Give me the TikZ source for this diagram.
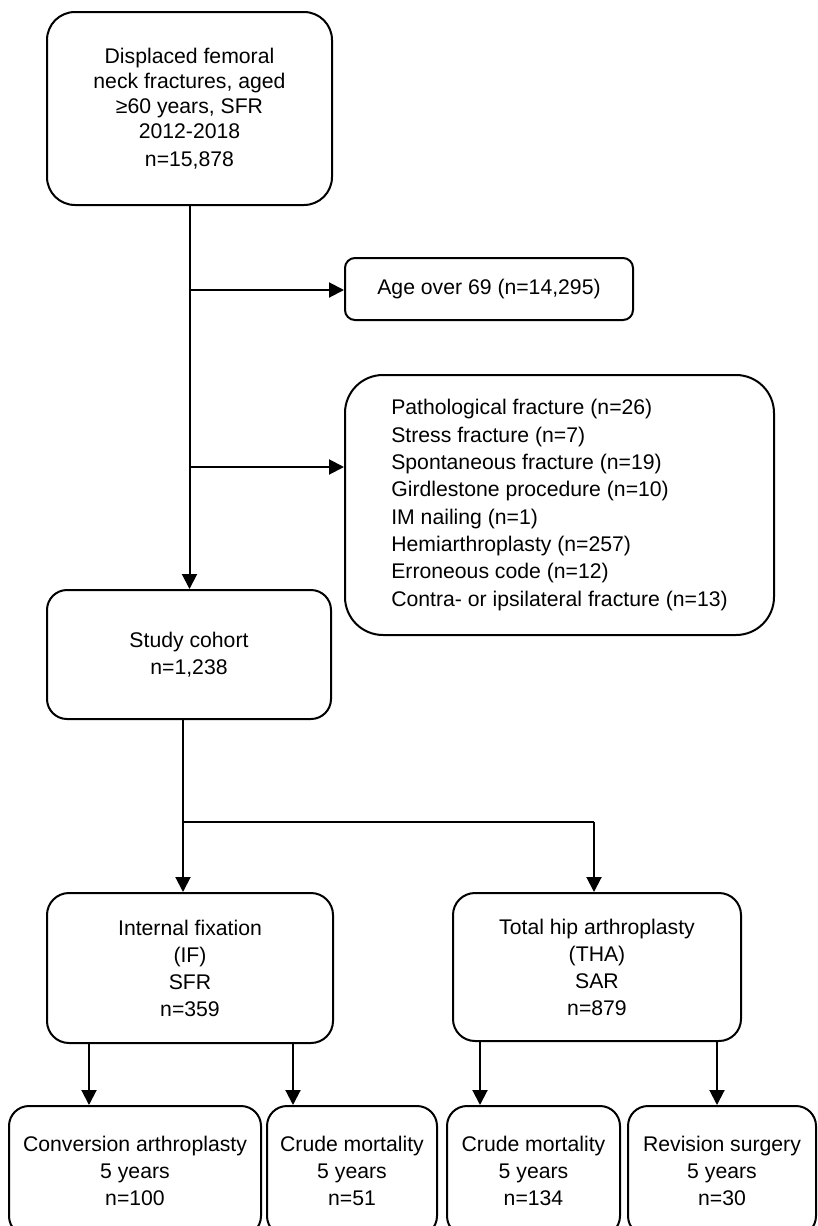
\documentclass[tikz,border=0pt]{standalone}
\usepackage{fontspec}
\setmainfont{Liberation Sans}
\usepackage{tikz}
\usetikzlibrary{positioning, arrows.meta}
\tikzset{
  blk/.style={draw, line width=2pt, rounded corners=20pt, align=center,
              inner sep=0pt, font=\fontsize{21.2}{27}\selectfont},
  flow/.style={-{Triangle[length=15pt, width=15pt]}, line width=2pt},
  link/.style={line width=2pt}
}

\begin{document}
\begin{tikzpicture}[x=1pt, y=-1pt]
  \useasboundingbox (0,0) rectangle (818,1226);
  \node[blk, minimum width=285pt, minimum height=193pt, rounded corners=28pt,
        font=\fontsize{21.2}{25}\selectfont] (top) at (189.5,108.5)
        {Displaced femoral\\neck fractures, aged\\≥60 years, SFR\\2012-2018\\[3pt]n=15,878};
  \node[blk, minimum width=288pt, minimum height=62pt, rounded corners=10pt] (age) at (489,289)
        {Age over 69 (n=14,295)};
  \node[blk, align=left, minimum width=429pt, minimum height=260pt, rounded corners=38pt,
        font=\fontsize{21.2}{27.3}\selectfont] (excl) at (559.5,505)
        {Pathological fracture (n=26)\\Stress fracture (n=7)\\Spontaneous fracture (n=19)\\
         Girdlestone procedure (n=10)\\IM nailing (n=1)\\Hemiarthroplasty (n=257)\\
         Erroneous code (n=12)\\Contra- or ipsilateral fracture (n=13)};
  \node[blk, minimum width=284pt, minimum height=129pt] (cohort) at (189,654.5)
        {Study cohort\\n=1,238};
  \node[blk, minimum width=286pt, minimum height=150pt, rounded corners=22pt] (fix) at (190,968)
        {Internal fixation\\(IF)\\SFR\\n=359};
  \node[blk, minimum width=288pt, minimum height=148pt, rounded corners=22pt] (tha) at (597,967)
        {Total hip arthroplasty\\(THA)\\SAR\\n=879};
  % outcomes, cut at the lower edge
  \node[blk, minimum width=252pt, minimum height=130pt] (conv) at (135,1171)
        {Conversion arthroplasty\\5 years\\n=100};
  \node[blk, minimum width=170pt, minimum height=130pt] (mortif) at (352,1171)
        {Crude mortality\\5 years\\n=51};
  \node[blk, minimum width=173pt, minimum height=130pt] (morttha) at (533.5,1171)
        {Crude mortality\\5 years\\n=134};
  \node[blk, minimum width=188pt, minimum height=130pt] (rev) at (722,1171)
        {Revision surgery\\5 years\\n=30};

  \coordinate (split1) at (top.south |- 0,290);
  \coordinate (split2) at (top.south |- 0,467);
  \draw[flow] (top.south) -- (top.south |- cohort.north);
  \draw[flow] (split1) -- (split1 -| age.west);
  \draw[flow] (split2) -- (split2 -| excl.west);

  \coordinate (forkL) at (183,822);
  \coordinate (forkR) at (594,822);
  \draw[link] (cohort.south -| forkL) -- (forkL) -- (forkR);
  \draw[flow] (forkL) -- (forkL |- fix.north);
  \draw[flow] (forkR) -- (forkR |- tha.north);

  \draw[flow] (fix.south -| 89,0) -- (conv.north -| 89,0);
  \draw[flow] (fix.south -| 293,0) -- (mortif.north -| 293,0);
  \draw[flow] (tha.south -| 480,0) -- (morttha.north -| 480,0);
  \draw[flow] (tha.south -| 717,0) -- (rev.north -| 717,0);
\end{tikzpicture}
\end{document}
